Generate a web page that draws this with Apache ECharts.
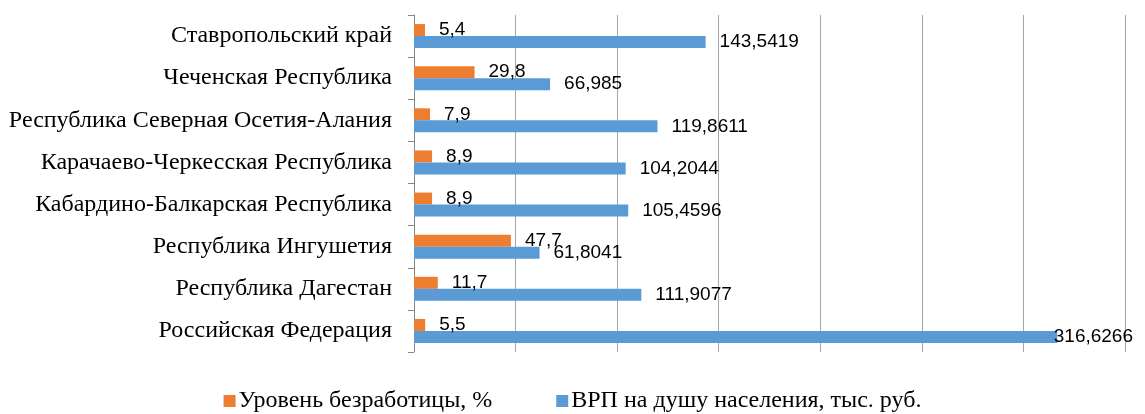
<!DOCTYPE html>
<html>
<head>
<meta charset="utf-8">
<script src="https://cdn.jsdelivr.net/npm/echarts@6/dist/echarts.min.js"></script>
<style>
html,body{margin:0;padding:0;background:#fff;}
#chart{width:1145px;height:414px;}
</style>
</head>
<body>
<div id="chart"></div>
<script>
const categories = [
  'Российская Федерация',
  'Республика Дагестан',
  'Республика Ингушетия',
  'Кабардино-Балкарская Республика',
  'Карачаево-Черкесская Республика',
  'Республика Северная Осетия-Алания',
  'Чеченская Республика',
  'Ставропольский край'
];
const unemployment = [5.5, 11.7, 47.7, 8.9, 8.9, 7.9, 29.8, 5.4];
const grp = [316.6266, 111.9077, 61.8041, 105.4596, 104.2044, 119.8611, 66.985, 143.5419];
const seriesNames = ['Уровень безработицы, %', 'ВРП на душу населения, тыс. руб.'];

const fmt = p => String(p.value).replace('.', ',');
const labelStyle = {
  show: true, position: 'right', distance: 14, offset: [0, 1],
  fontFamily: 'Liberation Sans', fontSize: 19, color: '#000',
  formatter: fmt
};

const chart = echarts.init(document.getElementById('chart'), null, {renderer: 'canvas'});
// keep labels inside the canvas (like the source chart does for the longest bar)
const fitLabel = function (p) {
  const r = p.labelRect;
  const maxRight = chart.getWidth() - 12;
  if (r.x + r.width > maxRight) return {dx: maxRight - (r.x + r.width)};
  return {};
};
chart.setOption({
  animation: false,
  grid: {left: 414, right: 20, top: 15, bottom: 62, containLabel: false},
  legend: {
    bottom: -4, left: 'center',
    icon: 'rect', itemWidth: 12, itemHeight: 12, itemGap: 64,
    textStyle: {fontFamily: 'Liberation Serif', fontSize: 24, color: '#000', padding: [0, 0, 0, -2]},
    data: seriesNames
  },
  xAxis: {
    type: 'value', min: 0, max: 350, interval: 50,
    axisLine: {show: false},
    axisTick: {show: false},
    axisLabel: {show: false},
    splitLine: {show: true, lineStyle: {color: '#a6a6a6', width: 1}}
  },
  yAxis: {
    type: 'category', data: categories,
    axisLine: {show: true, lineStyle: {color: '#868686'}},
    axisTick: {show: true, length: 6, lineStyle: {color: '#868686'}},
    axisLabel: {margin: 22, fontFamily: 'Liberation Serif', fontSize: 24, color: '#000'}
  },
  series: [
    {
      name: seriesNames[0], type: 'bar', data: unemployment,
      barWidth: 12, barGap: '0%',
      itemStyle: {color: '#ED7D31'},
      label: labelStyle,
      labelLayout: fitLabel
    },
    {
      name: seriesNames[1], type: 'bar', data: grp,
      barWidth: 12, barGap: '0%',
      itemStyle: {color: '#5B9BD5'},
      label: labelStyle,
      labelLayout: fitLabel
    }
  ]
});
</script>
</body>
</html>
